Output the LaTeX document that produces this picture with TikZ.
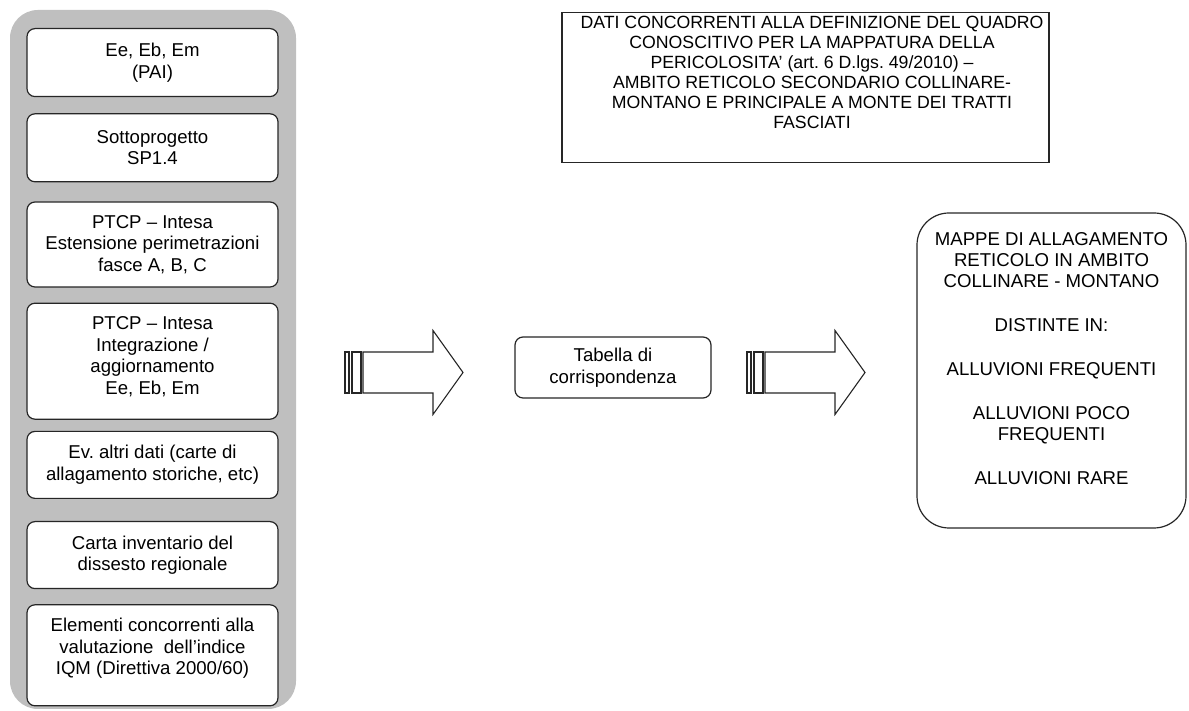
\documentclass[tikz,border=0pt]{standalone}
\usepackage{fontspec}
\setmainfont{Liberation Sans}
\frenchspacing
\usetikzlibrary{positioning}

\tikzset{
  stripearrow/.pic={
    \draw[arrowline] (0,-20.5) rectangle (4,20.5);
    \draw[arrowline] (7,-20.5) rectangle (16,20.5);
    \draw[arrowline] (18,-20.5) -- (88,-20.5) -- (88,-42) -- (118,0)
      -- (88,42) -- (88,20.5) -- (18,20.5) -- cycle;
  }
}

\begin{document}
\begin{tikzpicture}[x=1pt, y=1pt,
    srcbox/.style={draw=black!85, fill=white, line width=1.2pt, rounded corners=8pt,
      minimum width=251pt, align=center, inner sep=2pt,
      font=\fontsize{18.6}{21.5}\selectfont},
    arrowline/.style={draw=black!85, line width=1.1pt, fill=white}]
  \useasboundingbox (0,0) rectangle (1189,711);

  % grey panel with the sources
  \fill[gray!50, rounded corners=28pt] (10,2) rectangle (296,701);

  \node[srcbox, anchor=north, minimum height=68pt] (src1) at (152.5,683) {Ee, Eb, Em\\(PAI)};
  \node[srcbox, below=16pt of src1, minimum height=68pt] (src2) {Sottoprogetto\\SP1.4};
  \node[srcbox, below=19pt of src2, minimum height=85pt] (src3) {PTCP – Intesa\\Estensione perimetrazioni\\fasce A, B, C};
  \node[srcbox, below=15pt of src3, minimum height=116pt] (src4) {PTCP – Intesa\\Integrazione /\\aggiornamento\\Ee, Eb, Em\\[-10pt]\mbox{}};
  \node[srcbox, below=11pt of src4, minimum height=67pt] (src5) {Ev. altri dati (carte di\\allagamento storiche, etc)};
  \node[srcbox, below=22pt of src5, minimum height=67pt] (src6) {Carta inventario del\\dissesto regionale};
  \node[srcbox, below=15pt of src6, minimum height=101pt] (src7) {Elementi concorrenti alla\\valutazione~ dell’indice\\IQM (Direttiva 2000/60)\\[-4pt]\mbox{}};

  % title
  \node[draw=black!85, line width=1.2pt, anchor=north, minimum width=487pt, minimum height=150pt] (title) at (805.5,699) {};
  \node[align=center, inner sep=0pt, font=\fontsize{17.7}{20}\selectfont] (titletext) at (812,639)
    {DATI CONCORRENTI ALLA DEFINIZIONE DEL QUADRO\\CONOSCITIVO PER LA MAPPATURA DELLA\\PERICOLOSITA’ (art. 6 D.lgs. 49/2010) –\\AMBITO RETICOLO SECONDARIO COLLINARE-\\MONTANO E PRINCIPALE A MONTE DEI TRATTI\\FASCIATI};

  % correspondence table and result
  \node[srcbox, minimum width=196pt, minimum height=61pt] (table) at (613,343.5) {Tabella di\\corrispondenza};
  \node[draw=black!85, line width=1.2pt, rounded corners=32pt, minimum width=269pt, minimum height=315pt,
    align=center, font=\fontsize{18.6}{21}\selectfont] (maps) at (1051.5,340.5)
    {MAPPE DI ALLAGAMENTO\\RETICOLO IN AMBITO\\COLLINARE - MONTANO\\[23pt]DISTINTE IN:\\[23pt]ALLUVIONI FREQUENTI\\[23pt]ALLUVIONI POCO\\FREQUENTI\\[23pt]ALLUVIONI RARE\\[2pt]\mbox{}};

  \coordinate (in) at (345,338.5);
  \coordinate (out) at (747,338.5);
  \pic at (in) {stripearrow};
  \pic at (out) {stripearrow};
\end{tikzpicture}
\end{document}
